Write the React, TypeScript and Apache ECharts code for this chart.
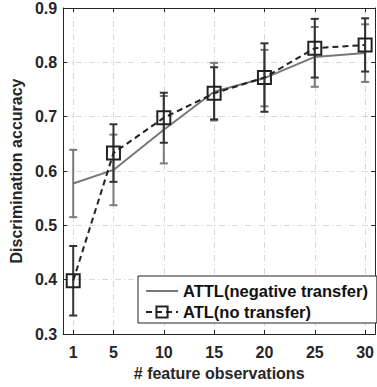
import React, { useEffect, useRef } from "react";
import * as echarts from "echarts";

const xs = [1, 5, 10, 15, 20, 25, 30];
const xTicks = [1, 5, 10, 15, 20, 25, 30];
const attlMean = [0.577, 0.602, 0.676, 0.746, 0.771, 0.81, 0.817];
const attlErr = [0.062, 0.065, 0.062, 0.053, 0.052, 0.055, 0.053];
const atlMean = [0.398, 0.633, 0.698, 0.743, 0.772, 0.826, 0.832];
const atlErr = [0.064, 0.053, 0.046, 0.048, 0.063, 0.054, 0.049];

const ATTL = "ATTL(negative transfer)";
const ATL = "ATL(no transfer)";
const FONT = "'Liberation Sans', Arial, Helvetica, sans-serif";
const TXT = "#262626";
const FS = 16;

function errSeries(name: string, mean: number[], err: number[], color: string, z: number) {
  return {
    type: "custom",
    name: name + " err",
    z,
    silent: true,
    data: xs.map((x, i) => [x, mean[i] - err[i], mean[i] + err[i]]),
    renderItem: (params: any, api: any) => {
      const lo = api.coord([api.value(0), api.value(1)]);
      const hi = api.coord([api.value(0), api.value(2)]);
      const w = 4;
      const style = { stroke: color, lineWidth: 2, fill: "none" };
      return {
        type: "group",
        children: [
          { type: "line", shape: { x1: lo[0], y1: lo[1], x2: hi[0], y2: hi[1] }, style },
          { type: "line", shape: { x1: lo[0] - w, y1: lo[1], x2: lo[0] + w, y2: lo[1] }, style },
          { type: "line", shape: { x1: hi[0] - w, y1: hi[1], x2: hi[0] + w, y2: hi[1] }, style },
        ],
      };
    },
  };
}

export default function App() {
  const ref = useRef<HTMLDivElement>(null);
  useEffect(() => {
    const chart = echarts.init(ref.current!, null, { renderer: "svg" });
    const gridLine = {
      show: true,
      lineStyle: { color: "#d8d8d8", width: 1, type: [6, 3, 1, 3] },
    };
    const labelStyle = { fontFamily: FONT, fontWeight: "bold", fontSize: FS, color: TXT };
    chart.setOption({
      animation: false,
      backgroundColor: "#fff",
      textStyle: { fontFamily: FONT },
      grid: { left: 63, top: 6, right: -2, bottom: 53 },
      legend: {
        data: [{ name: ATTL, itemStyle: { opacity: 0 } }, { name: ATL }],
        orient: "vertical",
        left: 138,
        top: 276,
        padding: [6, 9, 2, 7],
        itemGap: 3,
        itemWidth: 32,
        itemHeight: 14,
        borderColor: "#222",
        borderWidth: 1,
        backgroundColor: "#fff",
        textStyle: { fontFamily: FONT, fontWeight: "bold", fontSize: 16.5, color: "#111", lineHeight: 18 },
      },
      xAxis: [
        {
          type: "value",
          min: 0,
          max: 31,
          name: "# feature observations",
          nameLocation: "middle",
          nameGap: 31,
          nameTextStyle: labelStyle,
          axisLine: { show: true, lineStyle: { color: TXT, width: 1 } },
          axisTick: { show: true, inside: true, length: 4, customValues: xTicks, lineStyle: { color: TXT } },
          axisLabel: { customValues: xTicks, margin: 10, ...labelStyle },
          splitLine: gridLine,
        },
        {
          type: "value",
          min: 0,
          max: 31,
          position: "top",
          axisLine: { show: true, onZero: false, lineStyle: { color: TXT, width: 1 } },
          axisTick: { show: true, inside: true, length: 4, customValues: xTicks, lineStyle: { color: TXT } },
          axisLabel: { show: false },
          splitLine: { show: false },
        },
      ],
      yAxis: [
        {
          type: "value",
          min: 0.3,
          max: 0.9,
          interval: 0.1,
          name: "Discrimination accuracy",
          nameLocation: "middle",
          nameGap: 34,
          nameTextStyle: labelStyle,
          axisLine: { show: true, lineStyle: { color: TXT, width: 1 } },
          axisTick: { show: true, inside: true, length: 4, lineStyle: { color: TXT } },
          axisLabel: {
            margin: 6,
            ...labelStyle,
            formatter: (v: number) => v.toFixed(1),
          },
          splitLine: gridLine,
        },
        {
          type: "value",
          min: 0.3,
          max: 0.9,
          interval: 0.1,
          position: "right",
          axisLine: { show: true, onZero: false, lineStyle: { color: TXT, width: 1 } },
          axisTick: { show: true, inside: true, length: 4, lineStyle: { color: TXT } },
          axisLabel: { show: false },
          splitLine: { show: false },
        },
      ],
      series: [
        errSeries(ATTL, attlMean, attlErr, "#7a7a7a", 2),
        {
          type: "line",
          name: ATTL,
          z: 3,
          data: xs.map((x, i) => [x, attlMean[i]]),
          symbol: "none",
          lineStyle: { color: "#777", width: 2, type: "solid" },
          itemStyle: { color: "#777" },
        },
        errSeries(ATL, atlMean, atlErr, "#333", 4),
        {
          type: "line",
          name: ATL,
          z: 5,
          data: xs.map((x, i) => [x, atlMean[i]]),
          symbol: "rect",
          symbolSize: 13,
          lineStyle: { color: "#222", width: 2, type: [6, 4] },
          itemStyle: { color: "rgba(0,0,0,0)", borderColor: "#222", borderWidth: 2 },
        },
      ],
    });
    return () => chart.dispose();
  }, []);
  return (
    <div
      ref={ref}
      style={{ position: "fixed", left: 0, top: 0, width: 377, height: 387 }}
    />
  );
}
